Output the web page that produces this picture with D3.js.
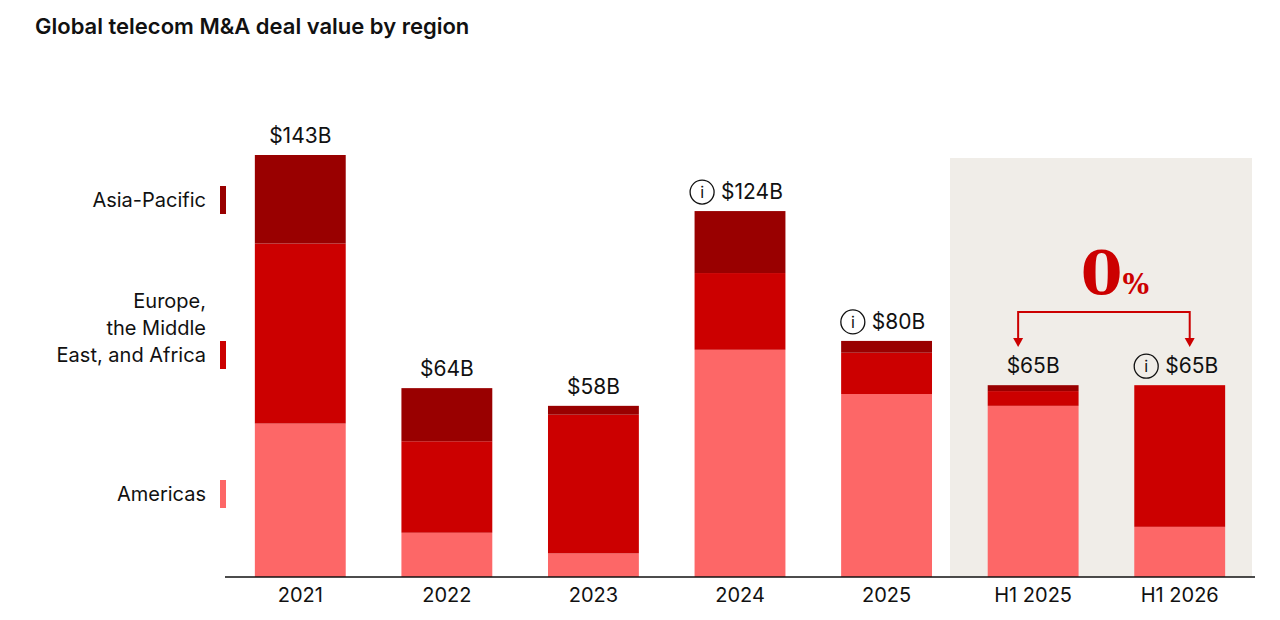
<!DOCTYPE html><html><head><meta charset="utf-8">
<script src="https://cdn.jsdelivr.net/npm/d3@7"></script>
<style>body{margin:0;background:#fff;font-family:Inter,"Open Sans",sans-serif}</style></head><body>
<svg id="c" width="1280" height="620"></svg>
<script>
const categories=["2021","2022","2023","2024","2025","H1 2025","H1 2026"];
const americas=[52,15,8,77,62,58,17];
const emea=[61,31,47,26,14,5,48];
const apac=[30,18,3,21,4,2,0];
const totalLabels=["$143B","$64B","$58B","$124B","$80B","$65B","$65B"];
const infoIcon=[false,false,false,true,true,false,true];
const seriesNames=["Americas","Europe,\nthe Middle\nEast, and Africa","Asia-Pacific"];
const colors=["#fd6767","#cc0000","#990000"];

const svg=d3.select("#c");
svg.append("text").attr("x",35).attr("y",34).attr("font-size",22).attr("font-weight",600).attr("fill","#111").text("Global telecom M&A deal value by region");
const x=d3.scaleBand().domain(categories).range([227,1253]).paddingInner(0.38).paddingOuter(0.19);
const y=d3.scaleLinear().domain([0,143]).range([577,155]);
// shaded H1 region
svg.append("rect").attr("x",950).attr("y",158).attr("width",302).attr("height",419).attr("fill","#f0ede8");
const data=categories.map((c,i)=>({c,v:[americas[i],emea[i],apac[i]]}));
const stack=d3.stack().keys([0,1,2]).value((d,k)=>d.v[k])(data);
stack.forEach((s,k)=>{
  svg.append("g").selectAll("rect").data(s).join("rect")
   .attr("x",d=>x(d.data.c)).attr("width",x.bandwidth())
   .attr("y",d=>y(d[1])).attr("height",d=>y(d[0])-y(d[1])).attr("fill",colors[k]);
});
svg.append("line").attr("x1",225).attr("x2",1255).attr("y1",577).attr("y2",577).attr("stroke","#111").attr("stroke-width",1.5);
categories.forEach((c,i)=>{
  svg.append("text").attr("x",x(c)+x.bandwidth()/2).attr("y",602).attr("text-anchor","middle").attr("font-size",20).attr("fill","#111").text(c);
  const tot=americas[i]+emea[i]+apac[i];
  const cx=x(c)+x.bandwidth()/2, ty=y(tot)-12;
  const t=svg.append("text").attr("y",ty).attr("font-size",21).attr("fill","#111").text(totalLabels[i]);
  if(infoIcon[i]){
    t.attr("x",cx+12).attr("text-anchor","middle");
    const w=t.node().getComputedTextLength();
    const ix=cx+12-w/2-19;
    svg.append("circle").attr("cx",ix).attr("cy",ty-7).attr("r",12).attr("fill","none").attr("stroke","#111").attr("stroke-width",1.3);
    svg.append("text").attr("x",ix).attr("y",ty-1).attr("text-anchor","middle").attr("font-size",16).attr("fill","#111").text("i");
  } else t.attr("x",cx).attr("text-anchor","middle");
});
// legend
const legY=[494,355,200];
seriesNames.forEach((n,k)=>{
  const lines=n.split("\n");
  const tx=svg.append("text").attr("x",206).attr("text-anchor","end").attr("font-size",20).attr("fill","#111");
  const y0=legY[k]-(lines.length-1)*27+7;
  lines.forEach((l,j)=>tx.append("tspan").attr("x",206).attr("y",y0+j*27).text(l));
  svg.append("rect").attr("x",220).attr("y",legY[k]-14).attr("width",6).attr("height",28).attr("fill",colors[k]);
});
// change annotation
const a1=x("H1 2025")+x.bandwidth()/2-15, a2=x("H1 2026")+x.bandwidth()/2+10;
svg.append("path").attr("d",`M${a1},340 V312 H${a2} V340`).attr("fill","none").attr("stroke","#cc0000").attr("stroke-width",2);
[a1,a2].forEach(ax=>svg.append("path").attr("d",`M${ax-5},338 L${ax+5},338 L${ax},347 Z`).attr("fill","#cc0000"));
const pt=svg.append("text").attr("x",1115).attr("y",294).attr("text-anchor","middle").attr("fill","#cc0000").attr("font-family","'DejaVu Serif','Liberation Serif',serif").attr("font-weight",700);
pt.append("tspan").attr("font-size",60).text("0");
pt.append("tspan").attr("font-size",28).text("%");
</script></body></html>
